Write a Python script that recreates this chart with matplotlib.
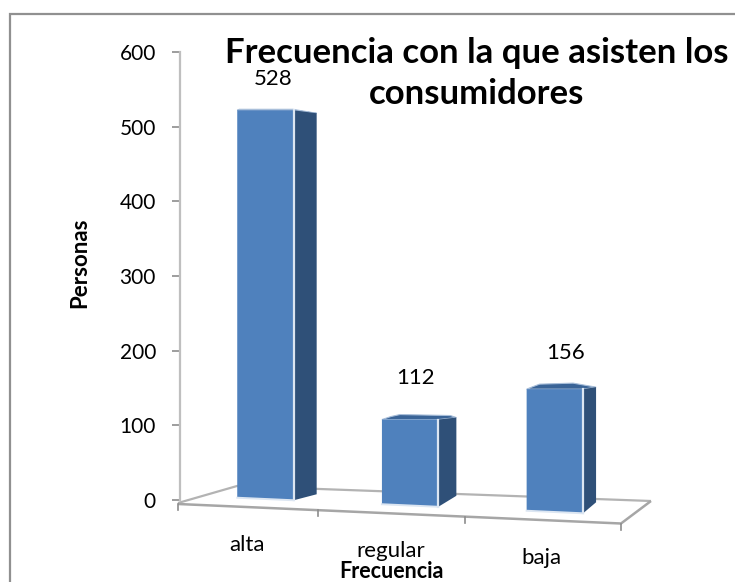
import matplotlib
matplotlib.use('Agg')
from matplotlib import pyplot as plt
from matplotlib.patches import Polygon
from matplotlib.transforms import Affine2D, IdentityTransform
import numpy as np

categories = ['alta', 'regular', 'baja']
personas = [528, 112, 156]
y_ticks = [0, 100, 200, 300, 400, 500, 600]

W, H = 735, 582
FRONT = '#4f81bd'
SIDE = '#2f5078'
TOP = '#3a6497'
EDGE = '#dce6f2'
GRID = '#a6a6a6'

plt.rcParams['font.family'] = ['Lato', 'DejaVu Sans']

fig = plt.figure(figsize=(W / 100., H / 100.), dpi=100)


def px(x, y):
    # image style coordinates (origin top left) to display coordinates
    return (x, H - y)


ax = fig.add_axes([179.5 / W, 82. / H, (651 - 179.5) / W, 448. / H])
ax.patch.set_alpha(0)
ax.set_xlim(-0.594, -0.594 + (651 - 179.5) / 144.7)
ax.set_ylim(0, 600)
ax.set_yticks(y_ticks)
ax.set_xticks([])
ax.tick_params(axis='y', length=6, width=1.2, color='#8c8c8c', labelsize=15, pad=11)
for s in ['top', 'right', 'bottom']:
    ax.spines[s].set_visible(False)
ax.spines['left'].set_color('#bfbfbf')
ax.spines['left'].set_linewidth(1.6)
ax.set_ylabel('Personas', fontsize=16, fontweight='bold')
ax.yaxis.set_label_coords(-0.19, 0.529)

disp = IdentityTransform()

# only the top and left border of the chart area are visible
fig.add_artist(Polygon([px(10, H), px(10, 13.5), px(W, 13.5)], closed=False, fill=False,
                       ec='#909090', lw=1.6, transform=disp))

# floor of the 3d box, drawn under the bars
ax.add_patch(Polygon([px(178, 503), px(237, 486), px(651, 501)], closed=False, fill=False,
                     ec='#b3b3b3', lw=1.6, transform=disp, clip_on=False, zorder=1))
ax.add_patch(Polygon([px(178, 504), px(621, 523.5), px(651, 501)], closed=False, fill=False,
                     ec=GRID, lw=1.8, transform=disp, clip_on=False, zorder=1))
for t in [178, 318, 465, 621]:
    y0 = 504 + (t - 178) * 19.5 / 443
    ax.plot(*zip(px(t, y0), px(t, y0 + 6)), color='#8c8c8c', lw=1.2, transform=disp,
            clip_on=False, zorder=1)

bar_width = 0.39
# foreshortening of each bar
bar_scale = [0.986, 1.028, 1.055]
depth_top = [(23, -3), (18, 2), (13, 2)]
depth_bottom = [(23, 6), (18, 11), (13, 11)]
# outline of the top face between the front left and back right corners
top_left = [[(2, 1), (4, 1)], [(9, 3), (18, 5)], [(5, 2), (13, 5)]]
top_right = [(-1, 1), (12, 4), (-10, 6)]
label_off = [(8, 31), (5, 42), (11, 36)]
cat_off = [(-18.5, -46), (-19, -45), (-13, -46)]

for i, v in enumerate(personas):
    # bars stand on the sloped floor
    bar_tr = Affine2D().translate(-265.5, -82).scale(1, bar_scale[i]) \
        + Affine2D.from_values(1, -0.045, 0, 1, 0, 0).translate(265.5, H - 499)
    tr = ax.transData + bar_tr
    l, r = i - bar_width / 2, i + bar_width / 2
    bl, br, tp = tr.transform([(l, 0), (r, 0), (i, v)])
    tl = np.array([bl[0], tp[1]])
    tr_ = np.array([br[0], tp[1]])

    back = [tl + p for p in top_left[i]] + [tr_ + top_right[i], tr_ + depth_top[i]]
    ax.add_patch(Polygon([tl] + back + [tr_], fc=TOP, ec='#a9bfda', lw=0.8,
                         transform=disp, zorder=3, clip_on=False))
    ax.add_patch(Polygon([br, tr_, tr_ + depth_top[i], br + depth_bottom[i]],
                         fc=SIDE, ec='none', transform=disp, zorder=3, clip_on=False))
    ax.add_patch(Polygon([bl, br, tr_, tl], fc=FRONT, ec='none', transform=disp, zorder=4,
                         clip_on=False))
    # pale bevel along the front face
    ax.plot([br[0], tr_[0]], [br[1], tr_[1]], color=EDGE, lw=1.6, transform=disp, zorder=5, clip_on=False)
    ax.plot([bl[0], br[0]], [bl[1], br[1]], color=EDGE, lw=1.4, transform=disp, zorder=5, clip_on=False)
    ax.annotate(str(v), xy=(i, v), xycoords=tr, xytext=label_off[i], textcoords='offset pixels',
                ha='center', va='center', fontsize=16, annotation_clip=False)
    ax.annotate(categories[i], xy=(i, 0), xycoords=tr, xytext=cat_off[i], textcoords='offset pixels',
                ha='center', va='center', fontsize=16, annotation_clip=False)

fig.text(476.5 / W, 1 - 53. / H, 'Frecuencia con la que asisten los', ha='center',
         va='center', fontsize=25, fontweight='bold')
fig.text(476.5 / W, 1 - 94. / H, 'consumidores', ha='center',
         va='center', fontsize=25, fontweight='bold')
fig.text(391. / W, 1 - 571. / H, 'Frecuencia', ha='center', va='center', fontsize=15.5, fontweight='bold')

fig.savefig('out.png', dpi=100)
